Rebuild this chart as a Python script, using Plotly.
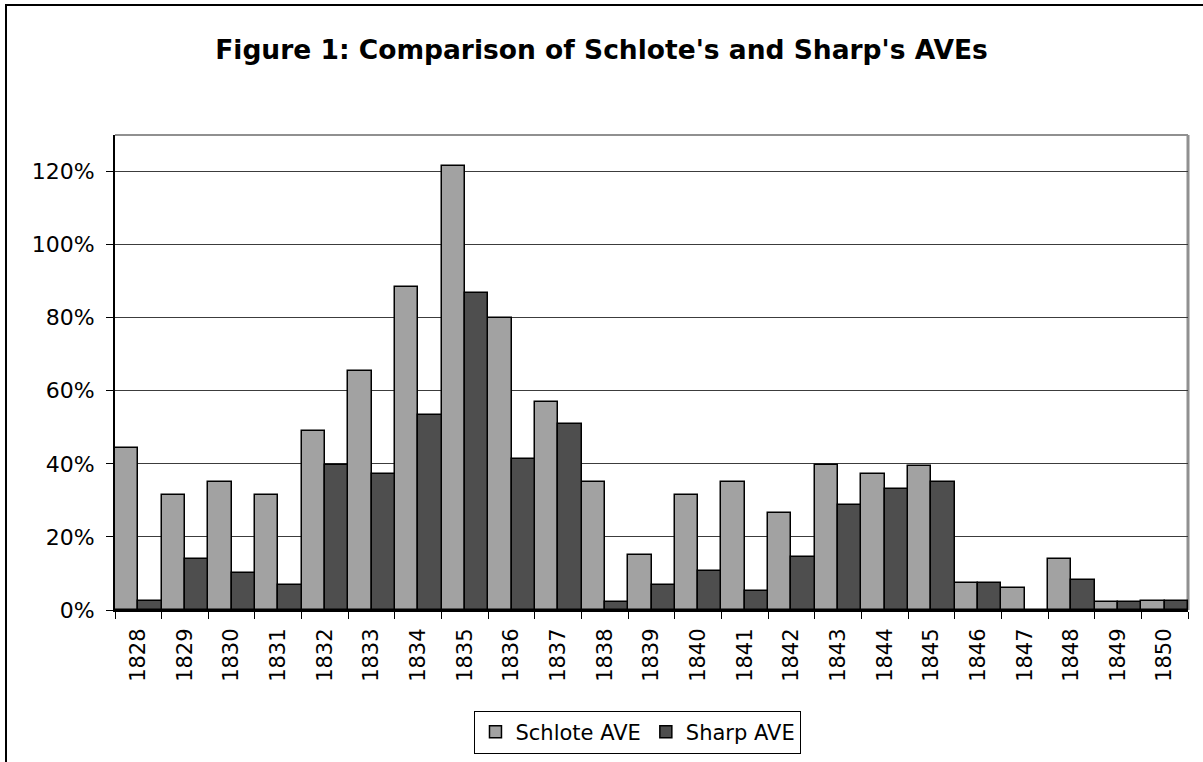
import plotly.graph_objects as go

years = [str(y) for y in range(1828, 1851)]
schlote_ave = [0.444, 0.314, 0.349, 0.314, 0.489, 0.653, 0.883, 1.215, 0.800, 0.569,
               0.349, 0.151, 0.314, 0.349, 0.266, 0.397, 0.373, 0.395, 0.074, 0.059,
               0.140, 0.021, 0.025]
sharp_ave = [0.024, 0.139, 0.101, 0.069, 0.398, 0.373, 0.535, 0.867, 0.412, 0.508,
             0.022, 0.069, 0.108, 0.053, 0.146, 0.287, 0.332, 0.349, 0.074, 0.0,
             0.083, 0.021, 0.025]

FONT = "DejaVu Sans"

fig = go.Figure()
fig.add_trace(go.Bar(x=years, y=schlote_ave, name="Schlote AVE",
                     marker=dict(color="#A2A2A2", line=dict(color="#000000", width=1.5))))
fig.add_trace(go.Bar(x=years, y=sharp_ave, name="Sharp AVE",
                     marker=dict(color="#4E4E4E", line=dict(color="#000000", width=1.5))))

fig.update_layout(
    width=1203, height=762,
    margin=dict(l=115, r=15, t=135, b=152, autoexpand=False),
    paper_bgcolor="white", plot_bgcolor="white",
    barmode="group", bargap=0, bargroupgap=0,
    title=dict(text="<b>Figure 1: Comparison of Schlote's and Sharp's AVEs</b>",
               x=0.5, xanchor="center", y=1 - 50 / 762, yanchor="middle",
               font=dict(family=FONT, size=26.5, color="black")),
    font=dict(family=FONT, size=20, color="black"),
    legend=dict(orientation="h", x=0.4874, xanchor="center", y=-0.212, yanchor="top",
                bordercolor="#000000", borderwidth=1, bgcolor="white",
                font=dict(family=FONT, size=21, color="black"),
                itemwidth=30, traceorder="normal"),
    showlegend=True,
)

fig.update_xaxes(type="category", tickangle=-90, showline=True, linecolor="black",
                 linewidth=2, ticks="outside", ticklen=7, tickcolor="black",
                 tickson="boundaries", showgrid=False, automargin=False,
                 ticklabelstandoff=8,
                 tickfont=dict(family=FONT, size=21, color="black"))
fig.update_yaxes(range=[0, 1.3], dtick=0.2, tick0=0, tickformat=".0%",
                 showline=True, linecolor="black", linewidth=2,
                 ticks="outside", ticklen=7, tickcolor="black", automargin=False,
                 ticklabelstandoff=7,
                 showgrid=True, gridcolor="#3c3c3c", gridwidth=1, zeroline=False,
                 tickfont=dict(family=FONT, size=22, color="black"))

# plot area border (top/right gray)
fig.add_shape(type="line", xref="paper", yref="paper", x0=0, x1=1, y0=1, y1=1,
              line=dict(color="#909090", width=2), layer="below")
fig.add_shape(type="line", xref="paper", yref="paper", x0=1, x1=1, y0=0, y1=1,
              line=dict(color="#909090", width=3), layer="below")
# outer chart frame
fig.add_shape(type="rect", xref="paper", yref="paper",
              x0=(6 - 115) / 1073, x1=1.1, y0=-0.5, y1=(610 - 5) / 475,
              line=dict(color="black", width=2), fillcolor="rgba(0,0,0,0)", layer="below")

fig.write_html("out.html", config={"displayModeBar": False},
               post_script="document.body.style.margin='0';")
